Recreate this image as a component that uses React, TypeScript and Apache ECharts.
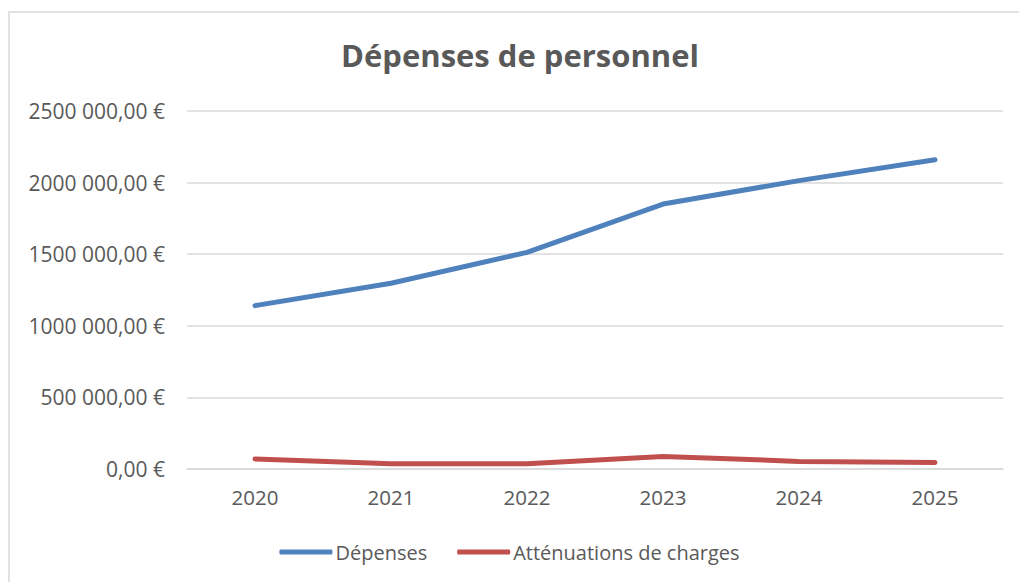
import React, { useEffect, useRef } from "react";
import * as echarts from "echarts";

const years = ["2020", "2021", "2022", "2023", "2024", "2025"];
const depenses = [1141000, 1297000, 1513000, 1850000, 2014000, 2159000];
const attenuations = [70000, 37000, 36000, 88000, 53000, 46000];
const seriesNames = ["Dépenses", "Atténuations de charges"];
const titleText = "Dépenses de personnel";

const FONT = "'Open Sans', 'Noto Sans', sans-serif";
const TXT = "#595959";

function fmt(v: number): string {
  const n = Math.round(v);
  if (n >= 1000) {
    const hi = Math.floor(n / 1000);
    const lo = String(n % 1000).padStart(3, "0");
    return `${hi} ${lo},00 €`;
  }
  return `${n},00 €`;
}

export default function App() {
  const ref = useRef<HTMLDivElement>(null);
  useEffect(() => {
    if (!ref.current) return;
    const chart = echarts.init(ref.current, undefined, { renderer: "svg" });
    chart.setOption({
      animation: false,
      backgroundColor: "#ffffff",
      title: {
        text: titleText,
        left: 515,
        textAlign: "center",
        top: 34,
        textStyle: { fontFamily: FONT, fontSize: 31, fontWeight: "bold", color: TXT },
      },
      graphic: [
        {
          type: "rect",
          shape: { x: 9, y: 12, width: 1040, height: 600 },
          style: { fill: "none", stroke: "#d9d9d9", lineWidth: 1.5 },
          silent: true,
        },
      ],
      legend: {
        bottom: 15,
        left: "center",
        itemWidth: 53,
        itemHeight: 5,
        itemGap: 30,
        icon: "roundRect",
        textStyle: { fontFamily: FONT, fontSize: 20, color: TXT, padding: [0, 0, 0, -2] },
        data: seriesNames,
      },
      grid: { left: 187, right: 16, top: 111, bottom: 113 },
      xAxis: {
        type: "category",
        data: years,
        boundaryGap: true,
        axisLine: { show: true, lineStyle: { color: "#d9d9d9", width: 1.5 } },
        axisTick: { show: false },
        axisLabel: { fontFamily: FONT, fontSize: 20.5, color: TXT, margin: 17 },
      },
      yAxis: {
        type: "value",
        min: 0,
        max: 2500000,
        interval: 500000,
        axisLine: { show: false },
        axisTick: { show: false },
        splitLine: { lineStyle: { color: "#d9d9d9", width: 1.5 } },
        axisLabel: { fontFamily: FONT, fontSize: 21, color: TXT, margin: 22, formatter: (v: number) => fmt(v) },
      },
      series: [
        {
          name: seriesNames[0],
          type: "line",
          data: depenses,
          symbol: "none",
          itemStyle: { color: "#4f81bd" },
          lineStyle: { color: "#4f81bd", width: 5, cap: "round", join: "round" },
        },
        {
          name: seriesNames[1],
          type: "line",
          data: attenuations,
          symbol: "none",
          itemStyle: { color: "#c0504d" },
          lineStyle: { color: "#c0504d", width: 5, cap: "round", join: "round" },
        },
      ],
    });
    return () => chart.dispose();
  }, []);
  return (
    <div
      ref={ref}
      style={{ position: "fixed", left: 0, top: 0, width: 1019, height: 582, background: "#fff" }}
    />
  );
}
